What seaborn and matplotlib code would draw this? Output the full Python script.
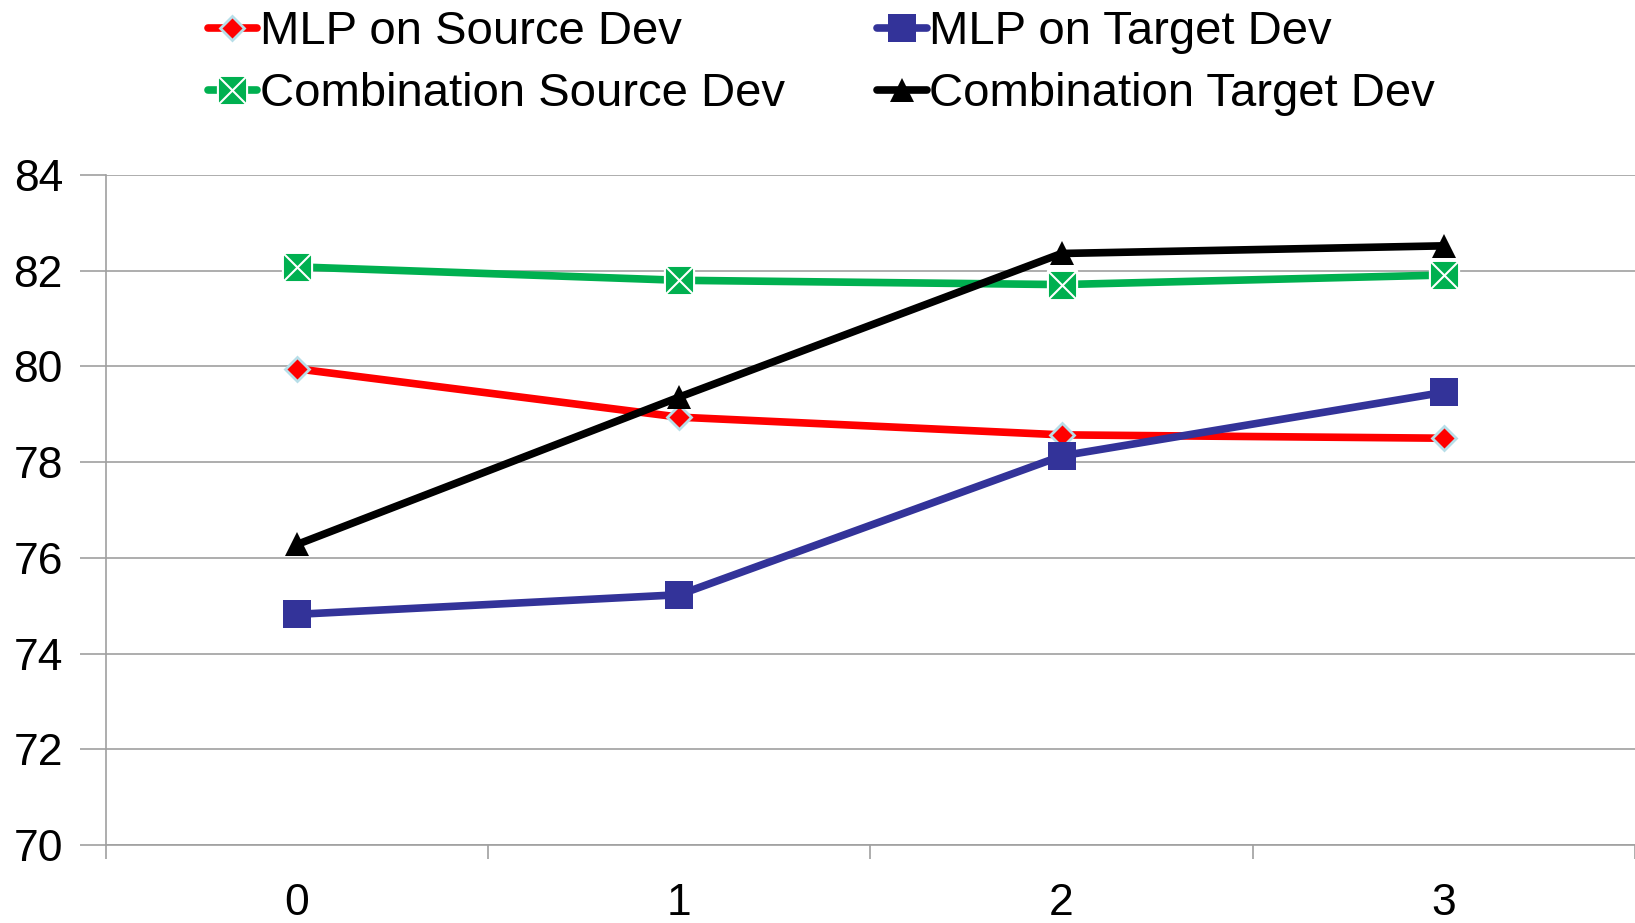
import numpy as np
import pandas as pd
import matplotlib
matplotlib.use("Agg")
import matplotlib.pyplot as plt
import seaborn as sns
from matplotlib.path import Path

# ---- data ----
x_values = [0, 1, 2, 3]
x_tick_labels = ["0", "1", "2", "3"]
series_names = ["MLP on Source Dev", "Combination Source Dev",
                "MLP on Target Dev", "Combination Target Dev"]
mlp_source = [79.95, 78.94, 78.57, 78.50]
comb_source = [82.08, 81.80, 81.71, 81.91]
mlp_target = [74.82, 75.23, 78.13, 79.46]
comb_target = [76.28, 79.36, 82.36, 82.52]
y_ticks = [70, 72, 74, 76, 78, 80, 82, 84]

series_values = [mlp_source, comb_source, mlp_target, comb_target]
rows = []
for name, vals in zip(series_names, series_values):
    for xv, yv in zip(x_values, vals):
        rows.append({"x": xv, "value": yv, "series": name})
df = pd.DataFrame(rows)

# ---- style ----
sns.set_theme(style="white")
plt.rcParams["font.family"] = ["Liberation Sans", "DejaVu Sans"]
plt.rcParams["text.color"] = "black"

colors = {"MLP on Source Dev": "#FF0000",
          "Combination Source Dev": "#00B050",
          "MLP on Target Dev": "#333399",
          "Combination Target Dev": "#000000"}

# square with X marker
box_x = Path([(-0.5, -0.5), (0.5, -0.5), (0.5, 0.5), (-0.5, 0.5), (-0.5, -0.5),
              (-0.5, -0.5), (0.5, 0.5), (-0.5, 0.5), (0.5, -0.5)],
             [Path.MOVETO, Path.LINETO, Path.LINETO, Path.LINETO, Path.CLOSEPOLY,
              Path.MOVETO, Path.LINETO, Path.MOVETO, Path.LINETO])
markers = {"MLP on Source Dev": "D",
           "Combination Source Dev": box_x,
           "MLP on Target Dev": "s",
           "Combination Target Dev": "^"}

fig = plt.figure(figsize=(16.35, 9.23), dpi=100)
ax = fig.add_axes([0.0648, 0.0845, 0.9352, 0.7259])

sns.lineplot(data=df, x="x", y="value", hue="series", hue_order=series_names,
             style="series", style_order=series_names, palette=colors,
             markers=markers, dashes=False, linewidth=5.5, legend=False,
             ax=ax, sort=False)

marker_props = [
    dict(markersize=12.5, markeredgecolor="#B7DEE8", markeredgewidth=2.0),
    dict(markersize=21, markeredgecolor="white", markeredgewidth=1.5),
    dict(markersize=20, markeredgecolor="#333399", markeredgewidth=0),
    dict(markersize=17, markeredgecolor="#000000", markeredgewidth=0),
]
lines = ax.lines[:4]
for ln, props in zip(lines, marker_props):
    ln.set_markersize(props["markersize"])
    ln.set_markeredgecolor(props["markeredgecolor"])
    ln.set_markeredgewidth(props["markeredgewidth"])
    ln.set_clip_on(False)

# ---- axes ----
grid_col = "#A0A0A0"
ax.set_xlim(-0.5, 3.5)
ax.set_ylim(70, 84)
ax.set_yticks(y_ticks)
ax.set_xticks(x_values)
ax.set_xticklabels(x_tick_labels)
ax.set_xticks([-0.5, 0.5, 1.5, 2.5, 3.5], minor=True)
ax.set_xlabel("")
ax.set_ylabel("")
ax.yaxis.grid(True, color=grid_col, linewidth=1.2)
ax.set_axisbelow(True)
ax.tick_params(axis="y", left=True, length=19, width=1.2, color=grid_col,
               pad=12, labelsize=32, labelcolor="black")
ax.tick_params(axis="x", which="major", bottom=True, length=0, pad=27,
               labelsize=32, labelcolor="black")
ax.tick_params(axis="x", which="minor", bottom=True, length=10, width=1.2,
               color=grid_col, direction="out")
for s in ["top", "right"]:
    ax.spines[s].set_visible(False)
for s in ["left", "bottom"]:
    ax.spines[s].set_color(grid_col)
    ax.spines[s].set_linewidth(1.2)

leg = ax.legend(handles=lines, labels=series_names, ncol=2, loc="upper left",
                bbox_to_anchor=(0.127, 0.989), bbox_transform=fig.transFigure,
                frameon=False, fontsize=34, handlelength=1.05, handletextpad=0.05,
                columnspacing=1.96, labelspacing=0.38, borderpad=0, borderaxespad=0,
                numpoints=1)
for t in leg.get_texts():
    t.set_color("black")

fig.savefig("out.png", dpi=100)
